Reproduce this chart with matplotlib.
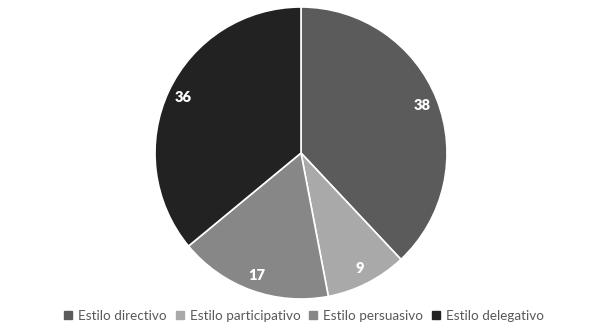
import matplotlib
matplotlib.use("Agg")
import matplotlib.pyplot as plt
from matplotlib.lines import Line2D

categories = ["Estilo directivo", "Estilo participativo", "Estilo persuasivo", "Estilo delegativo"]
values = [38, 9, 17, 36]
colors = ["#5b5b5b", "#a9a9a9", "#878787", "#222222"]

W, H = 589, 331
fig = plt.figure(figsize=(W / 100, H / 100), dpi=100, facecolor="white")

cx, cy, r = 301, 153, 146
ax = fig.add_axes([(cx - r) / W, (H - cy - r) / H, 2 * r / W, 2 * r / H])

total = sum(values)
wedges, _, autotexts = ax.pie(
    values, colors=colors, startangle=90, counterclock=False, radius=1,
    autopct=lambda p: f"{p * total / 100:.0f}", pctdistance=0.89,
    wedgeprops=dict(edgecolor="white", linewidth=1.2),
    textprops=dict(color="white", fontsize=10.5, fontweight="heavy", family="Lato"),
)
ax.set_xlim(-1, 1)
ax.set_ylim(-1, 1)
ax.set_aspect("auto")
ax.axis("off")

handles = [Line2D([], [], marker="s", linestyle="none", markersize=5.5,
                  markerfacecolor=c, markeredgecolor=c) for c in colors]
fig.legend(handles, categories, loc="center", bbox_to_anchor=(0.516, 1 - 316 / H),
           ncol=4, frameon=False, handlelength=0.7, handletextpad=0.4,
           columnspacing=0.6, prop=dict(family="Lato", size=9.7),
           labelcolor="#595959")

fig.savefig("out.png", dpi=100, facecolor="white")
